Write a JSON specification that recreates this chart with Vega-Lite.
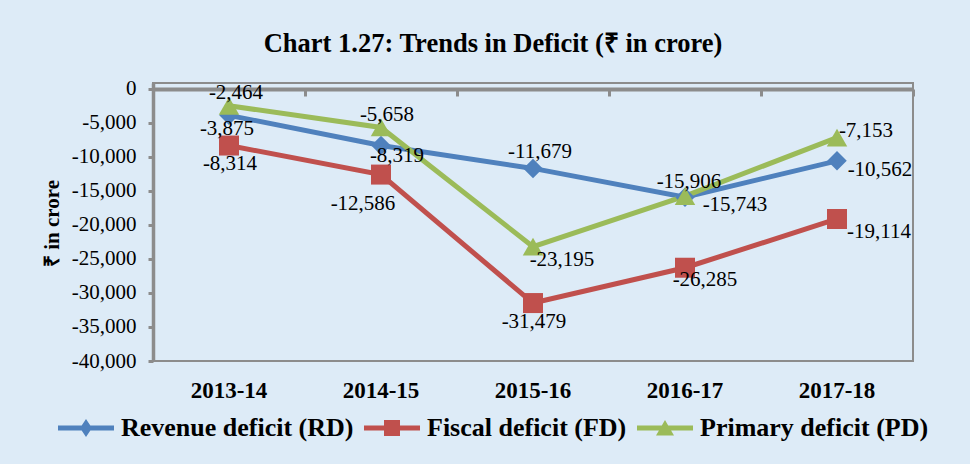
{
  "$schema": "https://vega.github.io/schema/vega-lite/v6.json",
  "width": 760,
  "height": 278,
  "autosize": {"type": "none"},
  "padding": {"left": 153, "top": 83, "right": 57, "bottom": 103},
  "background": "#DDEBF7",
  "config": {
    "locale": {"number": {"decimal": ".", "thousands": ",", "grouping": [3], "currency": ["", ""], "minus": "-"}},
    "view": {"stroke": "#8C8C8C", "strokeWidth": 2},
    "font": "Liberation Serif"
  },
  "title": {
    "text": "Chart 1.27: Trends in Deficit (₹ in crore)",
    "font": "Liberation Serif", "fontSize": 26.5, "fontWeight": "bold", "color": "#000000",
    "anchor": "middle", "frame": "group", "dx": -40, "offset": -1, "baseline": "alphabetic"
  },
  "data": {"values": [
    {"year": "2013-14", "series": "Revenue deficit (RD)", "value": -3875},
    {"year": "2014-15", "series": "Revenue deficit (RD)", "value": -8319},
    {"year": "2015-16", "series": "Revenue deficit (RD)", "value": -11679},
    {"year": "2016-17", "series": "Revenue deficit (RD)", "value": -15906},
    {"year": "2017-18", "series": "Revenue deficit (RD)", "value": -10562},
    {"year": "2013-14", "series": "Fiscal deficit (FD)", "value": -8314},
    {"year": "2014-15", "series": "Fiscal deficit (FD)", "value": -12586},
    {"year": "2015-16", "series": "Fiscal deficit (FD)", "value": -31479},
    {"year": "2016-17", "series": "Fiscal deficit (FD)", "value": -26285},
    {"year": "2017-18", "series": "Fiscal deficit (FD)", "value": -19114},
    {"year": "2013-14", "series": "Primary deficit (PD)", "value": -2464},
    {"year": "2014-15", "series": "Primary deficit (PD)", "value": -5658},
    {"year": "2015-16", "series": "Primary deficit (PD)", "value": -23195},
    {"year": "2016-17", "series": "Primary deficit (PD)", "value": -15743},
    {"year": "2017-18", "series": "Primary deficit (PD)", "value": -7153}
  ]},
  "encoding": {
    "x": {"field": "year", "type": "ordinal", "scale": {"type": "band", "paddingInner": 0, "paddingOuter": 0}, "axis": null},
    "y": {
      "field": "value", "type": "quantitative",
      "scale": {"domain": [-40000, 882], "nice": false, "zero": false},
      "axis": {
        "values": [0, -5000, -10000, -15000, -20000, -25000, -30000, -35000, -40000],
        "format": ",.0f", "grid": false, "labelOverlap": false,
        "labelFont": "Liberation Serif", "labelFontSize": 21, "labelColor": "#000000", "labelPadding": 12,
        "tickSize": 5, "tickWidth": 3, "tickColor": "#8C8C8C",
        "domainColor": "#8C8C8C", "domainWidth": 3.5,
        "title": "₹ in crore", "titleFont": "Liberation Serif", "titleFontSize": 21, "titleFontWeight": "bold", "titleColor": "#000000",
        "titleX": -101, "titleY": 140, "titleAngle": 270, "titleAlign": "center", "titleBaseline": "middle"
      }
    }
  },
  "layer": [
    {
      "mark": {"type": "point", "filled": true, "opacity": 0, "size": 400},
      "encoding": {
        "x": {"field": "year", "type": "ordinal", "scale": {"type": "band", "paddingInner": 0, "paddingOuter": 0},
          "axis": {"orient": "top", "title": null, "labels": false, "offset": -6, "domainColor": "#8C8C8C", "domainWidth": 4,
            "tickColor": "#8C8C8C", "tickWidth": 3, "tickSize": -7, "tickBand": "extent"}},
        "color": {"field": "series", "type": "nominal",
          "scale": {"domain": ["Revenue deficit (RD)", "Fiscal deficit (FD)", "Primary deficit (PD)"], "range": ["#4F81BD", "#C0504D", "#9BBB59"]},
          "legend": {"title": null, "orient": "none", "legendX": -80, "legendY": 332, "direction": "horizontal",
            "labelFont": "Liberation Serif", "labelFontSize": 26, "labelFontWeight": "bold", "labelColor": "#000000", "labelLimit": 0,
            "labelOffset": 22, "columnPadding": 10, "symbolSize": 400, "symbolStrokeWidth": 0, "symbolOffset": 0, "symbolOpacity": 1}},
        "shape": {"field": "series", "type": "nominal",
          "scale": {"domain": ["Revenue deficit (RD)", "Fiscal deficit (FD)", "Primary deficit (PD)"],
            "range": ["M-2.8,-0.25H2.8V0.25H-2.8Z M0,-0.9L0.6,0L0,0.9L-0.6,0Z", "M-2.8,-0.25H2.8V0.25H-2.8Z M-0.8,-0.8H0.8V0.8H-0.8Z", "M-2.8,-0.25H2.8V0.25H-2.8Z M0,-0.8L0.9,0.75H-0.9Z"]},
          "legend": {"title": null, "orient": "none", "legendX": -80, "legendY": 332, "direction": "horizontal",
            "labelFont": "Liberation Serif", "labelFontSize": 26, "labelFontWeight": "bold", "labelColor": "#000000", "labelLimit": 0,
            "labelOffset": 22, "columnPadding": 10, "symbolSize": 400, "symbolStrokeWidth": 0, "symbolOffset": 0, "symbolOpacity": 1}}
      }
    },
    {
      "mark": {"type": "line", "strokeWidth": 5},
      "encoding": {
        "x": {"field": "year", "type": "ordinal", "scale": {"type": "band", "paddingInner": 0, "paddingOuter": 0},
          "axis": {"orient": "bottom", "title": null, "domain": false, "ticks": false, "labelAngle": 0,
            "labelFont": "Liberation Serif", "labelFontSize": 23, "labelFontWeight": "bold", "labelColor": "#000000", "labelPadding": 18}},
        "color": {"field": "series", "type": "nominal",
          "scale": {"domain": ["Revenue deficit (RD)", "Fiscal deficit (FD)", "Primary deficit (PD)"], "range": ["#4F81BD", "#C0504D", "#9BBB59"]},
          "legend": null}
      }
    },
    {
      "transform": [{"filter": "test(/RD/, datum.series)"}],
      "mark": {"type": "point", "filled": true, "opacity": 1, "shape": "diamond", "size": 380, "color": "#4F81BD"}
    },
    {
      "transform": [{"filter": "test(/FD/, datum.series)"}],
      "mark": {"type": "point", "filled": true, "opacity": 1, "shape": "square", "size": 400, "color": "#C0504D"}
    },
    {
      "transform": [{"filter": "test(/PD/, datum.series)"}],
      "mark": {"type": "point", "filled": true, "opacity": 1, "shape": "triangle-up", "size": 420, "color": "#9BBB59"}
    },
    {
      "transform": [{"filter": "test(/RD/, datum.series) && datum.year == '2013-14'"}],
      "mark": {"type": "text", "font": "Liberation Serif", "fontSize": 21, "color": "#000000", "align": "center", "baseline": "middle", "dx": -2, "dy": 14},
      "encoding": {"text": {"field": "value", "type": "quantitative", "format": ","}}
    },
    {
      "transform": [{"filter": "test(/RD/, datum.series) && datum.year == '2014-15'"}],
      "mark": {"type": "text", "font": "Liberation Serif", "fontSize": 21, "color": "#000000", "align": "center", "baseline": "middle", "dx": 16, "dy": 10},
      "encoding": {"text": {"field": "value", "type": "quantitative", "format": ","}}
    },
    {
      "transform": [{"filter": "test(/RD/, datum.series) && datum.year == '2015-16'"}],
      "mark": {"type": "text", "font": "Liberation Serif", "fontSize": 21, "color": "#000000", "align": "center", "baseline": "middle", "dx": 7, "dy": -16},
      "encoding": {"text": {"field": "value", "type": "quantitative", "format": ","}}
    },
    {
      "transform": [{"filter": "test(/RD/, datum.series) && datum.year == '2016-17'"}],
      "mark": {"type": "text", "font": "Liberation Serif", "fontSize": 21, "color": "#000000", "align": "center", "baseline": "middle", "dx": 4, "dy": -15},
      "encoding": {"text": {"field": "value", "type": "quantitative", "format": ","}}
    },
    {
      "transform": [{"filter": "test(/RD/, datum.series) && datum.year == '2017-18'"}],
      "mark": {"type": "text", "font": "Liberation Serif", "fontSize": 21, "color": "#000000", "align": "center", "baseline": "middle", "dx": 43, "dy": 9},
      "encoding": {"text": {"field": "value", "type": "quantitative", "format": ","}}
    },
    {
      "transform": [{"filter": "test(/FD/, datum.series) && (datum.year == '2013-14' || datum.year == '2015-16')"}],
      "mark": {"type": "text", "font": "Liberation Serif", "fontSize": 21, "color": "#000000", "align": "center", "baseline": "middle", "dx": 1, "dy": 18.5},
      "encoding": {"text": {"field": "value", "type": "quantitative", "format": ","}}
    },
    {
      "transform": [{"filter": "test(/FD/, datum.series) && datum.year == '2014-15'"}],
      "mark": {"type": "text", "font": "Liberation Serif", "fontSize": 21, "color": "#000000", "align": "center", "baseline": "middle", "dx": -18, "dy": 29},
      "encoding": {"text": {"field": "value", "type": "quantitative", "format": ","}}
    },
    {
      "transform": [{"filter": "test(/FD/, datum.series) && datum.year == '2016-17'"}],
      "mark": {"type": "text", "font": "Liberation Serif", "fontSize": 21, "color": "#000000", "align": "center", "baseline": "middle", "dx": 20, "dy": 12},
      "encoding": {"text": {"field": "value", "type": "quantitative", "format": ","}}
    },
    {
      "transform": [{"filter": "test(/FD/, datum.series) && datum.year == '2017-18'"}],
      "mark": {"type": "text", "font": "Liberation Serif", "fontSize": 21, "color": "#000000", "align": "center", "baseline": "middle", "dx": 42, "dy": 13},
      "encoding": {"text": {"field": "value", "type": "quantitative", "format": ","}}
    },
    {
      "transform": [{"filter": "test(/PD/, datum.series) && datum.year == '2013-14'"}],
      "mark": {"type": "text", "font": "Liberation Serif", "fontSize": 21, "color": "#000000", "align": "center", "baseline": "middle", "dx": 7, "dy": -13},
      "encoding": {"text": {"field": "value", "type": "quantitative", "format": ","}}
    },
    {
      "transform": [{"filter": "test(/PD/, datum.series) && datum.year == '2014-15'"}],
      "mark": {"type": "text", "font": "Liberation Serif", "fontSize": 21, "color": "#000000", "align": "center", "baseline": "middle", "dx": 6, "dy": -12},
      "encoding": {"text": {"field": "value", "type": "quantitative", "format": ","}}
    },
    {
      "transform": [{"filter": "test(/PD/, datum.series) && datum.year == '2015-16'"}],
      "mark": {"type": "text", "font": "Liberation Serif", "fontSize": 21, "color": "#000000", "align": "center", "baseline": "middle", "dx": 29, "dy": 13},
      "encoding": {"text": {"field": "value", "type": "quantitative", "format": ","}}
    },
    {
      "transform": [{"filter": "test(/PD/, datum.series) && datum.year == '2016-17'"}],
      "mark": {"type": "text", "font": "Liberation Serif", "fontSize": 21, "color": "#000000", "align": "center", "baseline": "middle", "dx": 50, "dy": 9},
      "encoding": {"text": {"field": "value", "type": "quantitative", "format": ","}}
    },
    {
      "transform": [{"filter": "test(/PD/, datum.series) && datum.year == '2017-18'"}],
      "mark": {"type": "text", "font": "Liberation Serif", "fontSize": 21, "color": "#000000", "align": "center", "baseline": "middle", "dx": 29, "dy": -7},
      "encoding": {"text": {"field": "value", "type": "quantitative", "format": ","}}
    }
  ],
  "resolve": {"axis": {"x": "independent"}}
}
